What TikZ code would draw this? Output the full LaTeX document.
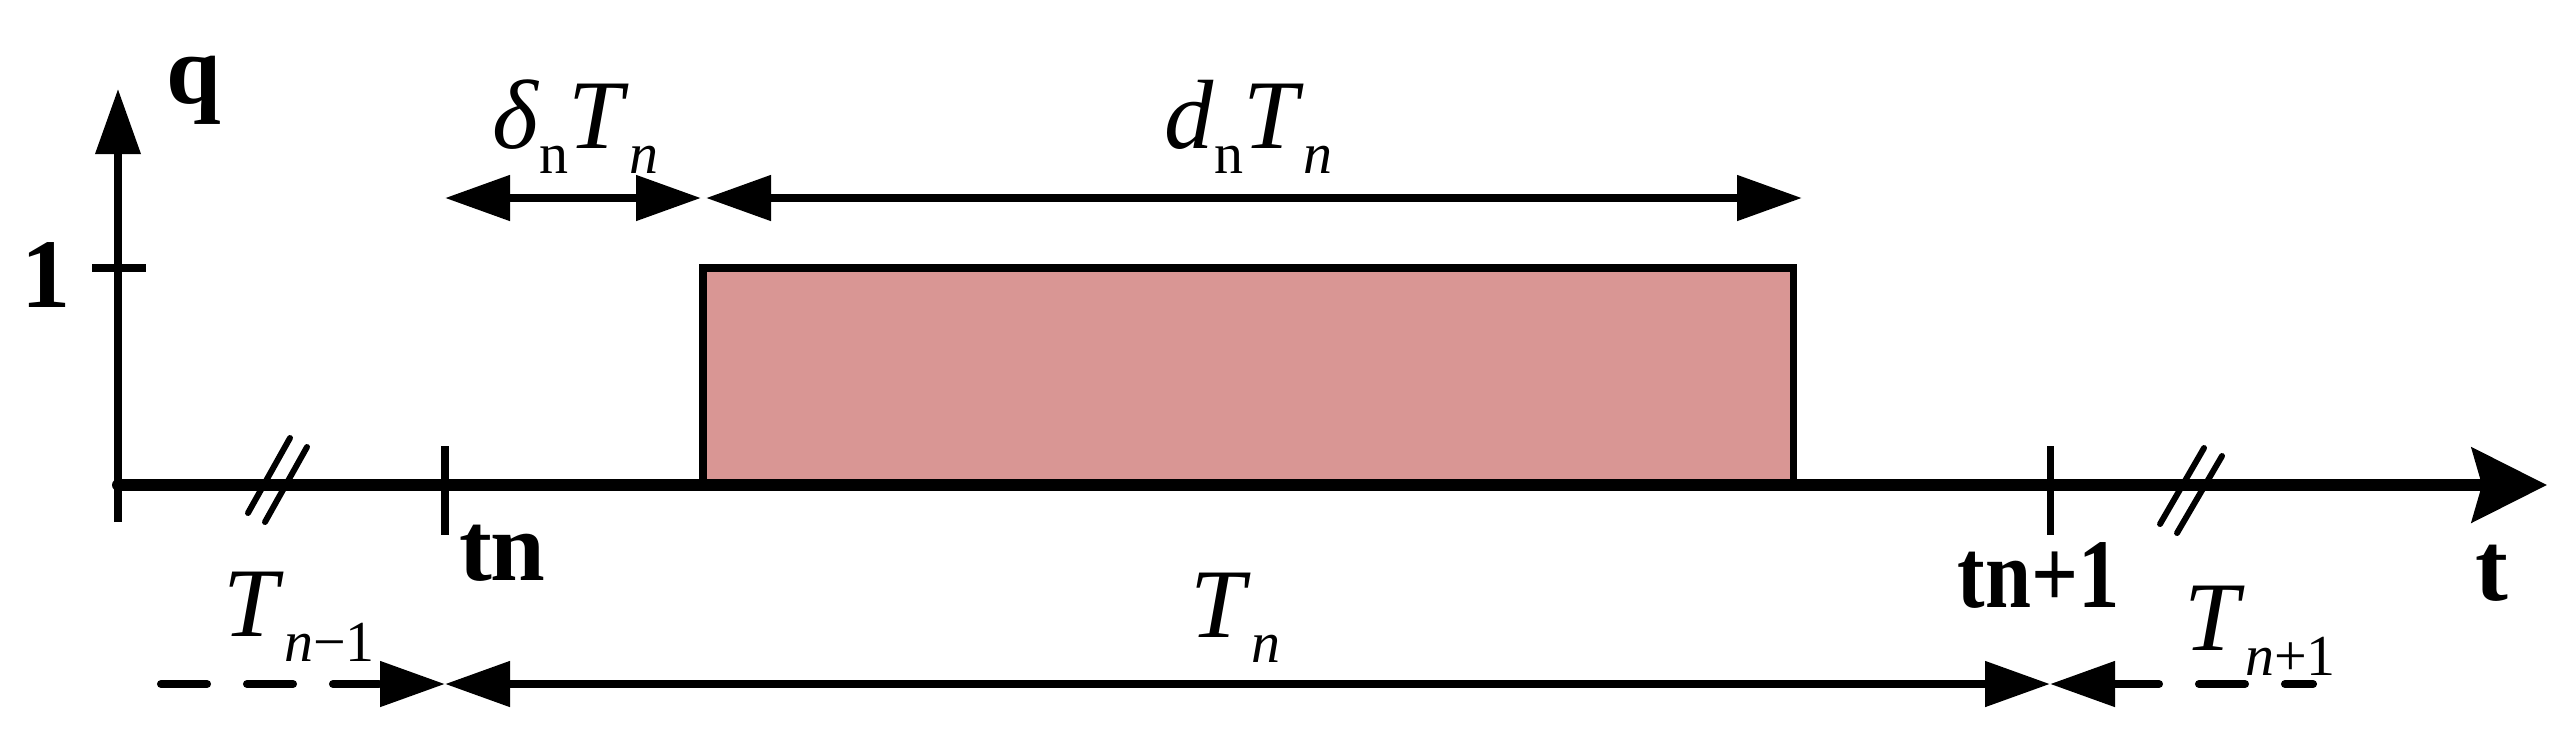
\documentclass[tikz,border=0pt]{standalone}
\usepackage{fontspec}
\setmainfont{Liberation Serif}
\usepackage{xcolor}
\usetikzlibrary{arrows.meta}
\definecolor{pulsefill}{RGB}{217,150,148}
\newcommand{\lsub}[1]{\raisebox{-0.25cm}{\fontsize{16.5}{18}\selectfont #1}}

\begin{document}
\begin{tikzpicture}[
  font=\fontsize{28}{32}\selectfont,
  lbl/.style={inner sep=0pt, anchor=base west},
  bold/.style={inner sep=0pt, anchor=base west, font=\fontsize{28}{32}\selectfont\bfseries},
  taxis/.style={line width=3.4pt, line cap=round, -{Stealth[length=0.75cm,width=0.74cm,inset=0.1cm]}},
  qaxis/.style={line width=2pt, -{Triangle[length=0.65cm,width=0.44cm]}},
  tick/.style={line width=2pt},
  dim/.style={line width=2.3pt, >={Triangle[length=0.65cm,width=0.44cm]}},
  dimdash/.style={dim, line cap=round, dash pattern=on 0.46cm off 0.40cm},
  brk/.style={line width=1.7pt, line cap=round}
]
\useasboundingbox (0,0) rectangle (25.67,7.49);

\coordinate (O) at (1.18,2.64);
\coordinate (qend) at (1.18,6.60);
\coordinate (tend) at (25.47,2.64);
\coordinate (tn) at (4.45,2.64);
\coordinate (tn1) at (20.50,2.64);
\coordinate (one) at (1.18,4.81);

\draw [line width=2pt, fill=pulsefill] (7.03,2.64) rectangle (17.93,4.81);

\draw [qaxis] ([yshift=-0.37cm]O) -- (qend);
\draw [taxis] (O) -- (tend);
\draw [tick] ([xshift=-0.26cm]one) -- ([xshift=0.28cm]one);
\draw [tick] ([yshift=0.39cm]tn) -- ([yshift=-0.50cm]tn);
\draw [tick] ([yshift=0.39cm]tn1) -- ([yshift=-0.50cm]tn1);

\draw [brk] (2.48,2.36) -- (2.90,3.11);
\draw [brk] (2.65,2.27) -- (3.07,3.02);
\draw [brk] (21.60,2.25) -- (22.04,3.01);
\draw [brk] (21.77,2.16) -- (22.22,2.93);

\node [bold, anchor=base] (onelbl) at (0.46,4.42) {1};
\node [bold] (qlbl) at (1.66,6.46) {q};
\node [bold] (tnlbl) at (4.59,1.69) {t\kern-0.025cm n};
\node [bold] (tn1lbl) at (19.57,1.42) {\scalebox{0.84}[1]{tn+1}};
\node [bold] (tlbl) at (24.75,1.49) {t};

\coordinate (da) at (4.45,5.51);
\coordinate (db) at (7.01,5.51);
\coordinate (dc) at (7.06,5.51);
\coordinate (dd) at (18.02,5.51);
\draw [dim, <->] (da) -- (db);
\draw [dim, <->] (dc) -- (dd);

\node [lbl] (deltalbl) at (4.92,6.01) {\textit{δ}\lsub{n}\textit{T}\lsub{\textit{n}}};
\node [lbl] (dutylbl) at (11.64,6.01) {\textit{d}\lsub{n}\textit{T}\lsub{\textit{n}}};

\coordinate (pa) at (1.61,0.65);
\coordinate (pb) at (4.45,0.65);
\coordinate (pc) at (20.50,0.65);
\coordinate (pd) at (23.13,0.65);
\draw [dimdash, ->] (pa) -- (pb);
\draw [dim, <->] (pb) -- (pc);
\draw [dimdash, <-] (pc) -- (pd);

\node [lbl] (Tprev) at (2.23,1.13) {\textit{T}\lsub{\textit{n}−1}};
\node [lbl] (Tcur) at (11.90,1.12) {\textit{T}\lsub{\textit{n}}};
\node [lbl] (Tnext) at (21.84,0.99) {\textit{T}\lsub{\textit{n}+1}};

\end{tikzpicture}
\end{document}
